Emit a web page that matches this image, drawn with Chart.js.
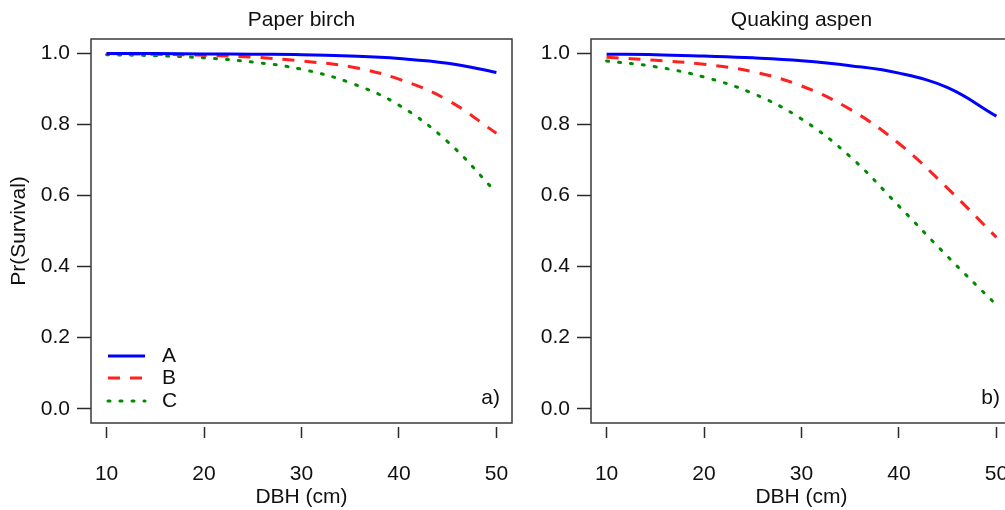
<!DOCTYPE html>
<html>
<head>
<meta charset="utf-8">
<title>Pr(Survival) by DBH</title>
<script src="https://cdn.jsdelivr.net/npm/chart.js@4"></script>
<style>
  html, body { margin: 0; padding: 0; background: #fff; overflow: hidden; }
  #wrap { position: relative; width: 1005px; height: 510px; }
  canvas { position: absolute; top: 0; }
  #birch { left: 0; }
  #aspen { left: 500px; }
</style>
</head>
<body>
<div id="wrap">
  <canvas id="birch" width="520" height="510"></canvas>
  <canvas id="aspen" width="520" height="510"></canvas>
</div>
<script>
// DBH (cm) where the fitted curves were read
const dbh = [10, 15, 20, 25, 30, 35, 40, 45, 50];

// Paper birch, survival probability per group
const birchA = [0.999, 0.999, 0.998, 0.997, 0.996, 0.992, 0.985, 0.972, 0.946];
const birchB = [0.999, 0.997, 0.994, 0.989, 0.978, 0.962, 0.927, 0.868, 0.775];
const birchC = [0.996, 0.993, 0.987, 0.975, 0.955, 0.917, 0.854, 0.751, 0.608];

// Quaking aspen
const aspenA = [0.997, 0.996, 0.992, 0.987, 0.979, 0.965, 0.944, 0.903, 0.823];
const aspenB = [0.989, 0.980, 0.969, 0.948, 0.908, 0.842, 0.746, 0.620, 0.482];
const aspenC = [0.978, 0.962, 0.933, 0.887, 0.815, 0.709, 0.570, 0.428, 0.292];

const groups = ['A', 'B', 'C'];
const xTicks = [10, 20, 30, 40, 50];
const yTicks = [0.0, 0.2, 0.4, 0.6, 0.8, 1.0];

const FONT = "'Liberation Sans', Arial, sans-serif";
const FSIZE = 21;
const INK = '#111111';

// line look for each group (solid / dashed / dotted)
const styles = [
  { color: '#0000ff', dash: [], cap: 'butt' },
  { color: '#ff2020', dash: [12, 10], cap: 'butt' },
  { color: '#008a00', dash: [2, 10], cap: 'round' }
];

// box around the plot, panel title, tag and the legend
const panelDecor = {
  id: 'panelDecor',
  afterDraw(chart, args, opts) {
    const { ctx, chartArea: a } = chart;
    ctx.save();
    ctx.strokeStyle = '#3a3a3a';
    ctx.lineWidth = 1.5;
    ctx.strokeRect(a.left, a.top, a.right - a.left, a.bottom - a.top);

    ctx.fillStyle = INK;
    ctx.font = FSIZE + 'px ' + FONT;
    ctx.textBaseline = 'middle';
    ctx.textAlign = 'center';
    ctx.fillText(opts.title, (a.left + a.right) / 2, 20);

    ctx.textAlign = 'right';
    ctx.fillText(opts.tag, a.right - 12, a.bottom - 25);

    if (opts.legend) {
      const rows = [a.bottom - 67, a.bottom - 45, a.bottom - 22];
      chart.data.datasets.forEach((ds, i) => {
        const y = rows[i];
        ctx.beginPath();
        ctx.strokeStyle = ds.borderColor;
        ctx.lineWidth = ds.borderWidth;
        ctx.lineCap = ds.borderCapStyle;
        ctx.setLineDash(ds.borderDash);
        ctx.moveTo(a.left + 17, y);
        ctx.lineTo(a.left + 54, y);
        ctx.stroke();
        ctx.setLineDash([]);
        ctx.textAlign = 'left';
        ctx.fillStyle = INK;
        ctx.fillText(ds.label, a.left + 71, y);
      });
    }
    ctx.restore();
  }
};

function makePanel(id, title, tag, series, withLegend, withYTitle) {
  const datasets = series.map((vals, i) => ({
    label: groups[i],
    data: dbh.map((x, j) => ({ x: x, y: vals[j] })),
    borderColor: styles[i].color,
    borderDash: styles[i].dash,
    borderCapStyle: styles[i].cap,
    borderWidth: 3,
    pointRadius: 0,
    fill: false,
    tension: 0.4
  }));

  return new Chart(document.getElementById(id), {
    type: 'line',
    data: { datasets: datasets },
    plugins: [panelDecor],
    options: {
      responsive: false,
      animation: false,
      layout: { padding: { top: 39, right: 8, bottom: 0, left: 0 } },
      plugins: {
        legend: { display: false },
        tooltip: { enabled: false },
        panelDecor: { title: title, tag: tag, legend: withLegend }
      },
      scales: {
        x: {
          type: 'linear',
          min: 8.4,
          max: 51.6,
          afterBuildTicks: s => { s.ticks = xTicks.map(v => ({ value: v })); },
          afterFit: s => {
            s.height = 87;
            s.paddingLeft = 0;
            s.paddingRight = 0;
          },
          border: { display: false },
          grid: {
            drawOnChartArea: false,
            tickLength: 15,
            tickWidth: 1.5,
            tickColor: '#2a2a2a',
            tickBorderDash: [0, 4, 11, 40]
          },
          ticks: {
            color: INK,
            padding: 24,
            maxRotation: 0,
            font: { family: FONT, size: FSIZE }
          },
          title: {
            display: true,
            text: 'DBH (cm)',
            color: INK,
            padding: { top: 0, bottom: 0 },
            font: { family: FONT, size: FSIZE }
          }
        },
        y: {
          type: 'linear',
          min: -0.04,
          max: 1.04,
          afterBuildTicks: s => { s.ticks = yTicks.map(v => ({ value: v })); },
          afterFit: s => { s.width = 91; },
          border: { display: false },
          grid: {
            drawOnChartArea: false,
            tickLength: 14,
            tickWidth: 1.5,
            tickColor: '#2a2a2a'
          },
          ticks: {
            color: INK,
            padding: 7,
            font: { family: FONT, size: FSIZE },
            callback: v => v.toFixed(1)
          },
          title: {
            display: withYTitle,
            text: 'Pr(Survival)',
            color: INK,
            padding: { top: 7, bottom: 0 },
            font: { family: FONT, size: FSIZE }
          }
        }
      }
    }
  });
}

makePanel('birch', 'Paper birch', 'a)', [birchA, birchB, birchC], true, true);
makePanel('aspen', 'Quaking aspen', 'b)', [aspenA, aspenB, aspenC], false, false);
</script>
</body>
</html>
